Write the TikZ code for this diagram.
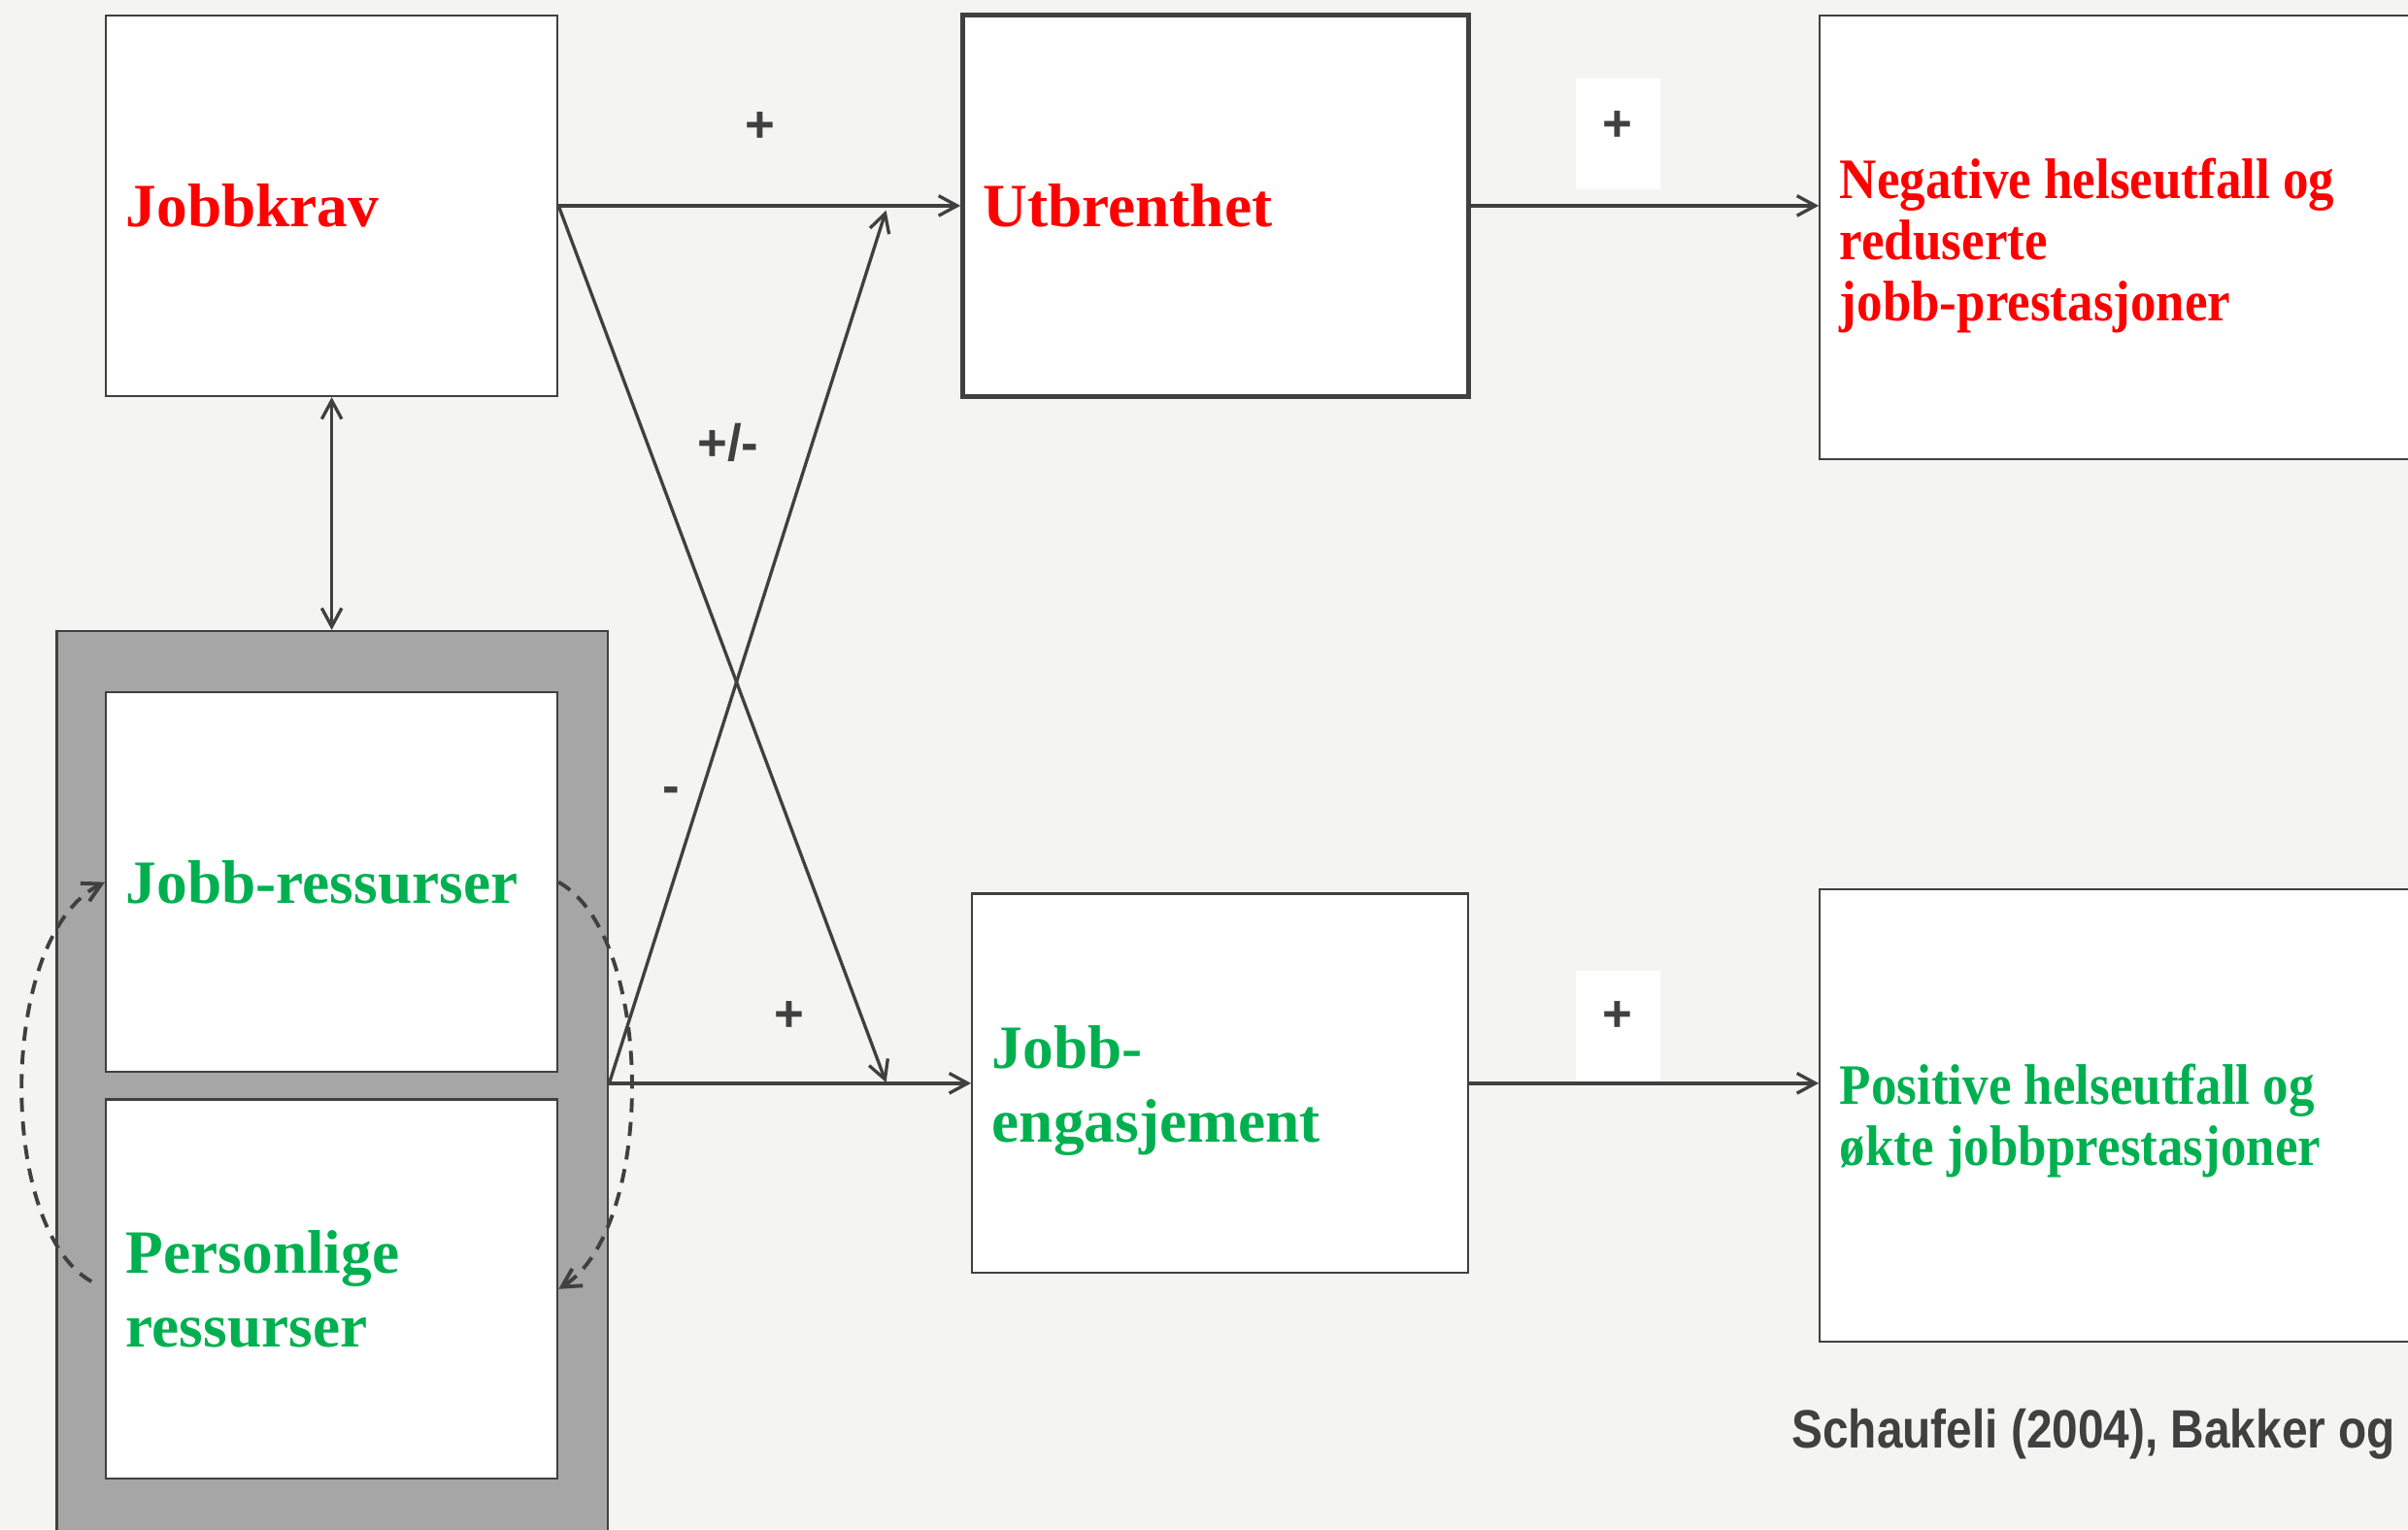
\documentclass[tikz,border=0pt]{standalone}
\usepackage{fontspec}
\setmainfont{Liberation Serif}
\setsansfont{Liberation Sans}
\newfontfamily\condserif[FakeStretch=0.9]{Liberation Serif}
\newfontfamily\citefont[FakeStretch=0.86]{Liberation Sans}
\usepackage{tikz}
\usetikzlibrary{arrows.meta}
\definecolor{bgGray}{HTML}{F4F5F2}
\definecolor{lineGray}{HTML}{404040}
\definecolor{frameGray}{HTML}{A6A6A6}
\definecolor{demRed}{HTML}{FF0000}
\definecolor{resGreen}{HTML}{00B050}

\begin{document}
\begin{tikzpicture}[>={Straight Barb[length=1.2mm,width=1.3mm]},
  bx/.style={draw=lineGray, line width=0.4pt, fill=white, inner xsep=0.13cm, inner ysep=0pt,
    align=flush left, font=\bfseries\fontsize{11.4}{13.7}\selectfont},
  small/.style={font=\condserif\bfseries\fontsize{10.6}{11.4}\selectfont},
  conn/.style={draw=lineGray, line width=0.6pt, ->},
  loopdash/.style={conn, line width=0.7pt, dash pattern=on 2.6pt off 1.8pt},
  sign/.style={text=lineGray, inner sep=0pt, font=\sffamily\bfseries\fontsize{9.5}{11}\selectfont},
  plusbg/.style={fill=white, minimum width=0.55cm, minimum height=0.72cm, inner sep=0pt}]
\useasboundingbox (0,0) rectangle (15.68,9.96);
\clip (0,0) rectangle (15.68,9.96);
\fill[bgGray] (0,0) rectangle (15.68,9.96);
% demands side
\node[bx, text=demRed, text width=2.68cm, minimum height=2.48cm] (jk) at (2.16,8.62) {Jobbkrav};
\node[bx, text=demRed, line width=0.9pt, text width=3.03cm, minimum height=2.48cm] (ub) at (7.915,8.62) {Utbrenthet};
\node[bx, small, text=demRed, text width=3.89cm, minimum height=2.89cm] (neg) at (13.925,8.415) {\rule{0pt}{1em}Negative helseutfall og\\reduserte\\jobb-prestasjoner};
% resources side
\node[draw=lineGray, line width=0.4pt, fill=frameGray, minimum width=3.59cm, minimum height=5.89cm] (gr) at (2.165,2.905) {};
\node[bx, text=resGreen, text width=2.68cm, minimum height=2.47cm] (jr) at (2.16,4.215) {Jobb-ressurser};
\node[bx, text=resGreen, text width=2.68cm, minimum height=2.47cm] (pr) at (2.16,1.565) {Personlige\\ressurser};
\node[bx, text=resGreen, text width=2.97cm, minimum height=2.47cm] (je) at (7.945,2.905) {\rule{0pt}{0.93em}Jobb-\\engasjement};
\node[bx, small, text=resGreen, text width=3.89cm, minimum height=2.95cm] (pos) at (13.925,2.695) {\rule{0pt}{0.9em}Positive helseutfall og\\økte jobbprestasjoner};
\node[anchor=west, text=lineGray, inner sep=0pt, font=\citefont\bfseries\fontsize{10}{12}\selectfont] (cite) at (11.66,0.62) {Schaufeli (2004), Bakker og};

\node[plusbg] (pbg1) at (10.535,9.09) {};
\node[plusbg] (pbg2) at (10.535,3.275) {};
\coordinate (ua) at (5.77,8.59);
\coordinate (da) at (5.77,2.91);

\draw[conn] (jk.east) -- (ub.west);
\draw[conn] (jk.east) -- (da);
\draw[conn] (gr.east) -- (ua);
\draw[conn] (gr.east) -- (je.west);
\draw[conn, <->] (jk.south) -- (jk.south |- gr.north);
\draw[conn] (ub.east) -- (ub.east -| neg.west);
\draw[conn] (je.east) -- (je.east -| pos.west);
\draw[loopdash, shorten <=1mm] (pr.west) .. controls (-0.02,1.96) and (-0.02,3.86) .. (jr.west);
\draw[loopdash] (jr.east) .. controls (4.27,3.86) and (4.27,1.96) .. (pr.east);

\node[sign] (s1) at (4.95,9.13) {+};
\node[sign] (s2) at (4.74,7.08) {+/-};
\node[sign] (s3) at (4.37,4.78) {-};
\node[sign] (s4) at (5.14,3.34) {+};
\node[sign] (s5) at (10.53,9.14) {+};
\node[sign] (s6) at (10.53,3.34) {+};
\end{tikzpicture}
\end{document}
